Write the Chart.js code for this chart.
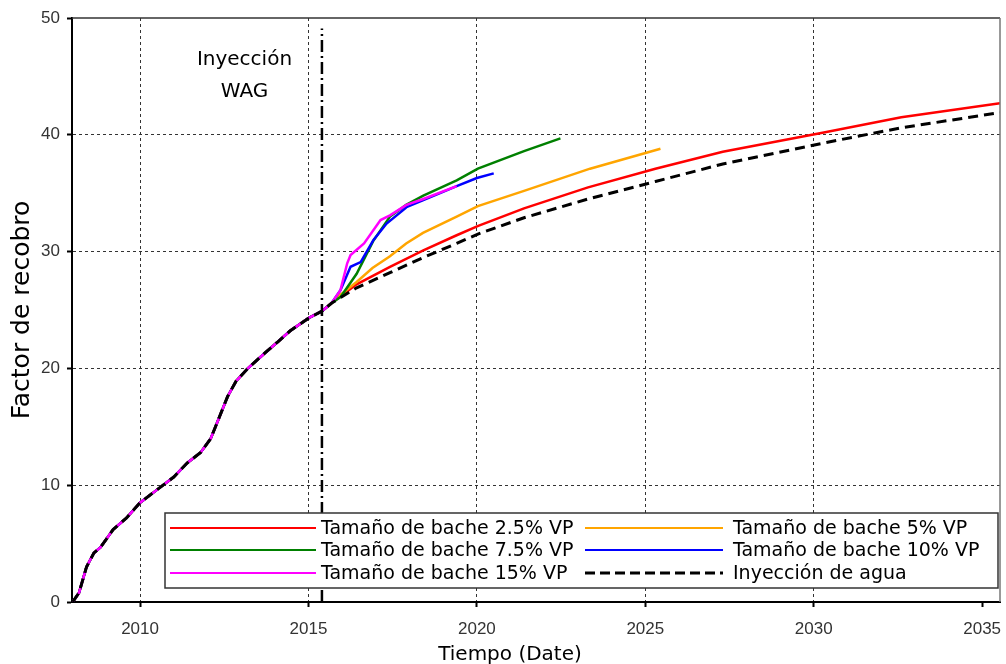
<!DOCTYPE html>
<html lang="es">
<head>
<meta charset="utf-8">
<title>Factor de recobro</title>
<script src="https://cdn.jsdelivr.net/npm/chart.js@4.4.1/dist/chart.umd.min.js"></script>
<style>
  html, body { margin: 0; padding: 0; background: #fff; }
  #grafico { display: block; }
</style>
</head>
<body>
<canvas id="grafico" width="1006" height="664"></canvas>
<script>
// Historia común (todas las curvas coinciden hasta ~2015.7)
const histT = [2008.0, 2008.19, 2008.41, 2008.63, 2008.83, 2009.2, 2009.6, 2010.0, 2010.5, 2011.0, 2011.4, 2011.8, 2012.1, 2012.35, 2012.6, 2012.85, 2013.2, 2013.7, 2014.1, 2014.45, 2015.0, 2015.4, 2015.69];
const histV = [0, 0.8, 3.0, 4.2, 4.7, 6.2, 7.2, 8.5, 9.6, 10.7, 11.9, 12.8, 14.0, 15.8, 17.6, 18.9, 20.0, 21.3, 22.3, 23.2, 24.3, 24.9, 25.6];

// Pronósticos por escenario
const aguaT = [2016.43, 2017.42, 2018.41, 2019.4, 2020.03, 2021.4, 2023.3, 2025.3, 2027.3, 2030.3, 2032.6, 2035.53];
const aguaV = [26.9, 28.2, 29.5, 30.7, 31.5, 32.9, 34.5, 36.0, 37.5, 39.3, 40.6, 41.9];

const bache25T = [2016.43, 2017.42, 2018.41, 2019.4, 2020.04, 2021.4, 2023.3, 2025.3, 2027.3, 2030.3, 2032.6, 2035.53];
const bache25V = [27.2, 28.7, 30.1, 31.4, 32.2, 33.7, 35.5, 37.1, 38.55, 40.2, 41.5, 42.7];

const bache5T = [2015.95, 2016.43, 2016.9, 2017.42, 2017.9, 2018.4, 2019.4, 2020.03, 2021.4, 2023.36, 2025.45];
const bache5V = [26.3, 27.4, 28.6, 29.6, 30.7, 31.6, 33.0, 33.9, 35.2, 37.1, 38.8];

const bache75T = [2015.95, 2016.43, 2016.92, 2017.42, 2017.9, 2018.41, 2019.4, 2020.03, 2021.4, 2022.48];
const bache75V = [26.1, 28.1, 30.9, 33.0, 34.0, 34.8, 36.1, 37.1, 38.6, 39.7];

const bache10T = [2015.95, 2016.25, 2016.55, 2016.93, 2017.32, 2017.91, 2018.41, 2019.4, 2020.0, 2020.5];
const bache10V = [26.7, 28.7, 29.1, 31.0, 32.4, 33.8, 34.4, 35.6, 36.3, 36.7];

const bache15T = [2015.95, 2016.15, 2016.25, 2016.65, 2017.14, 2017.42, 2017.91, 2018.41, 2019.4];
const bache15V = [26.7, 29.0, 29.7, 30.7, 32.7, 33.1, 34.0, 34.5, 35.6];

// Línea de inicio de la inyección WAG
const wagT = [2015.4, 2015.4];
const wagV = [0, 49.1];

const xTicks = [2010, 2015, 2020, 2025, 2030, 2035];
const etiquetas = ['Tamaño de bache 2.5% VP', 'Tamaño de bache 5% VP', 'Tamaño de bache 7.5% VP',
                   'Tamaño de bache 10% VP', 'Tamaño de bache 15% VP', 'Inyección de agua'];

function puntos(t, v) {
    return t.map((x, i) => ({ x: x, y: v[i] }));
}
function serie(t, v) {
    return puntos(histT.concat(t), histV.concat(v));
}

const colores = ['#ff0000', '#ffa500', '#008000', '#0000ff', '#ff00ff', '#000000'];

const datasets = [
    { label: etiquetas[0], data: serie(bache25T, bache25V), borderColor: colores[0], borderWidth: 2.5, order: 6 },
    { label: etiquetas[1], data: serie(bache5T, bache5V), borderColor: colores[1], borderWidth: 2.5, order: 5 },
    { label: etiquetas[2], data: serie(bache75T, bache75V), borderColor: colores[2], borderWidth: 2.5, order: 4 },
    { label: etiquetas[3], data: serie(bache10T, bache10V), borderColor: colores[3], borderWidth: 2.5, order: 3 },
    { label: etiquetas[4], data: serie(bache15T, bache15V), borderColor: colores[4], borderWidth: 2.5, order: 2 },
    { label: etiquetas[5], data: serie(aguaT, aguaV), borderColor: colores[5], borderWidth: 3, borderDash: [10, 6], order: 1 },
    { label: 'WAG', data: puntos(wagT, wagV), borderColor: '#000', borderWidth: 2.5, borderDash: [12, 4, 2, 4], order: 0 }
];

// Marco superior y derecho, textos y leyenda
const extras = {
    id: 'extras',
    afterDraw(chart) {
        const ctx = chart.ctx;
        const a = chart.chartArea;
        const xs = chart.scales.x, ys = chart.scales.y;
        ctx.save();
        // marco
        ctx.lineWidth = 1.5;
        ctx.strokeStyle = '#333';
        ctx.beginPath();
        ctx.moveTo(a.left, a.top);
        ctx.lineTo(a.right, a.top);
        ctx.stroke();
        ctx.strokeStyle = '#777';
        ctx.beginPath();
        ctx.moveTo(a.right, a.top);
        ctx.lineTo(a.right, a.bottom);
        ctx.stroke();

        // anotación
        ctx.fillStyle = '#000';
        ctx.font = '20px "DejaVu Sans"';
        ctx.textAlign = 'center';
        ctx.textBaseline = 'middle';
        ctx.fillText('Inyección', xs.getPixelForValue(2013.1), ys.getPixelForValue(46.4));
        ctx.fillText('WAG', xs.getPixelForValue(2013.1), ys.getPixelForValue(43.7));

        // título eje x
        ctx.font = '20px "DejaVu Sans"';
        ctx.fillText('Tiempo (Date)', (a.left + a.right) / 2 - 26, a.bottom + 53);

        // leyenda
        const bx = a.left + 93, by = a.bottom - 89, bw = 833, bh = 75;
        ctx.fillStyle = '#fff';
        ctx.fillRect(bx, by, bw, bh);
        ctx.lineWidth = 1.5;
        ctx.strokeStyle = '#333';
        ctx.strokeRect(bx, by, bw, bh);
        const filas = [15, 37, 60];
        const cols = [{ x0: bx + 5, x1: bx + 151, tx: bx + 156 }, { x0: bx + 420, x1: bx + 558, tx: bx + 568 }];
        ctx.font = '19px "DejaVu Sans"';
        ctx.textAlign = 'left';
        for (let i = 0; i < 6; i++) {
            const c = cols[i % 2];
            const y = by + filas[Math.floor(i / 2)];
            const ds = chart.data.datasets[i];
            ctx.strokeStyle = ds.borderColor;
            ctx.lineWidth = i === 5 ? 3 : 2;
            ctx.setLineDash(i === 5 ? [10, 5] : []);
            ctx.beginPath();
            ctx.moveTo(c.x0, y);
            ctx.lineTo(c.x1, y);
            ctx.stroke();
            ctx.setLineDash([]);
            ctx.fillStyle = '#000';
            ctx.fillText(ds.label, c.tx, y + 1);
        }
        ctx.restore();
    }
};

new Chart(document.getElementById('grafico').getContext('2d'), {
    type: 'line',
    data: { datasets: datasets },
    options: {
        responsive: false,
        animation: false,
        devicePixelRatio: 1,
        layout: { padding: { top: 18, right: 6, left: 0, bottom: 0 } },
        elements: {
            point: { radius: 0 },
            line: { tension: 0, fill: false }
        },
        plugins: { legend: { display: false }, tooltip: { enabled: false } },
        scales: {
            x: {
                type: 'linear',
                min: 2007.98,
                max: 2035.53,
                afterBuildTicks: s => { s.ticks = xTicks.map(v => ({ value: v })); },
                afterFit: s => { s.height = 62; s.paddingLeft = 0; s.paddingRight = 0; },
                ticks: {
                    callback: v => String(v),
                    font: { family: '"Liberation Sans"', size: 17 },
                    color: '#333',
                    padding: 12,
                    maxRotation: 0
                },
                grid: {
                    color: c => (c.tick && c.tick.value === 2035) ? 'rgba(0,0,0,0)' : '#333',
                    lineWidth: 1,
                    tickLength: 5,
                    tickColor: '#000',
                    tickWidth: 2
                },
                border: { display: true, color: '#000', width: 2, dash: [3, 3] }
            },
            y: {
                min: 0,
                max: 50,
                afterFit: s => { s.width = 72; },
                ticks: {
                    stepSize: 10,
                    font: { family: '"Liberation Sans"', size: 17 },
                    color: '#333',
                    padding: 7
                },
                title: {
                    display: true,
                    text: 'Factor de recobro',
                    font: { family: '"DejaVu Sans"', size: 25 },
                    color: '#000',
                    padding: { top: 7, bottom: 0 }
                },
                grid: {
                    color: c => (c.tick && (c.tick.value === 0 || c.tick.value === 50)) ? 'rgba(0,0,0,0)' : '#333',
                    lineWidth: 1,
                    tickLength: 5,
                    tickColor: '#000',
                    tickWidth: 2
                },
                border: { display: true, color: '#000', width: 2, dash: [3, 3] }
            }
        }
    },
    plugins: [extras]
});
</script>
</body>
</html>
